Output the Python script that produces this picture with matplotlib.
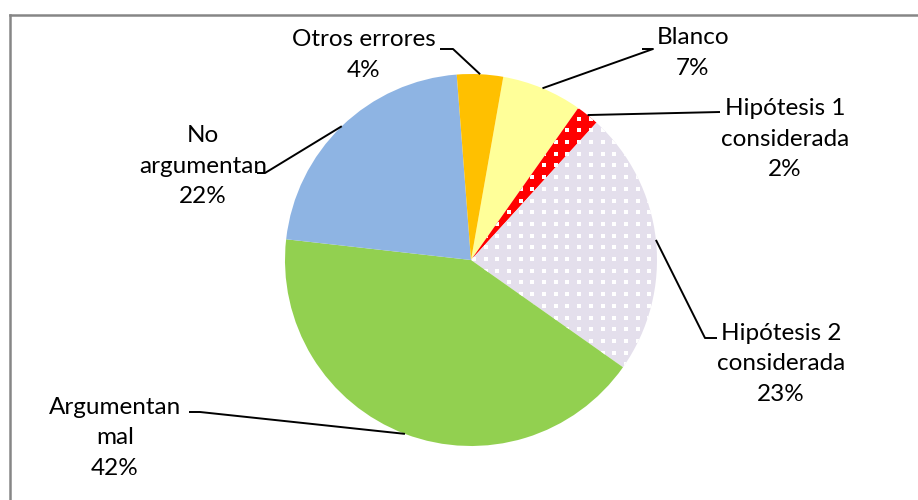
import numpy as np
import matplotlib.pyplot as plt
from matplotlib.lines import Line2D

# datos del gráfico
categorias = ["Blanco", "Hipótesis 1\nconsiderada", "Hipótesis 2\nconsiderada",
              "Argumentan\nmal", "No\nargumentan", "Otros errores"]
porcentajes = [7, 2, 23, 42, 22, 4]
colores = ["#FFFF99", "#FF0000", "#E4DFEC", "#92D050", "#8EB4E3", "#FFC000"]
con_puntos = [False, True, True, False, False, False]

W, H = 918, 500
CX, CY, R = 471, 260, 186  # centro y radio del pastel en píxeles


def px(x, y):
    # píxeles de la imagen -> coordenadas de datos (radio 1)
    return (x - CX) / R, (CY - y) / R


# posición de cada etiqueta (centro del texto) y codo de la línea guía, en píxeles
pos_etiqueta = [(693, 53), (785, 139), (781, 364), (115, 438), (203, 166), (364, 55)]
codo = [[(653, 49), (642, 49)], [(720, 112)], [(705, 338), (717, 338)],
        [(200, 412), (189, 412)], [(265, 173), (257, 173)], [(453, 49), (440, 49)]]

plt.rcParams["font.family"] = ["Lato", "DejaVu Sans"]

fig = plt.figure(figsize=(W / 100, H / 100), dpi=100)
ax = fig.add_axes([0, 0, 1, 1])

wedges, _ = ax.pie(porcentajes, colors=colores, startangle=80, counterclock=False,
                   radius=1, center=(0, 0), wedgeprops=dict(linewidth=0))

# trama de puntos blancos (cuadraditos) en las porciones con patrón
paso = 11.7 / R
gx, gy = np.meshgrid(np.arange(-1.2, 1.2, paso) + 0.02, np.arange(-1.2, 1.2, paso) + 0.01)
for w, p in zip(wedges, con_puntos):
    if p:
        sc = ax.scatter(gx.ravel(), gy.ravel(), s=8.5, marker="s", color="white",
                        linewidths=0, zorder=3)
        sc.set_clip_path(w)

# etiquetas y líneas guía
for w, cat, pct, (lx, ly), pts in zip(wedges, categorias, porcentajes, pos_etiqueta, codo):
    ang = np.deg2rad((w.theta1 + w.theta2) / 2)
    xs = [np.cos(ang)] + [px(*p)[0] for p in pts]
    ys = [np.sin(ang)] + [px(*p)[1] for p in pts]
    ax.plot(xs, ys, color="black", lw=1.4, zorder=4, solid_capstyle="butt")
    tx, ty = px(lx, ly)
    ax.text(tx, ty, f"{cat}\n{pct}%", ha="center", va="center", fontsize=17.5,
            linespacing=1.55, color="black", zorder=5)

ax.set_xlim(-CX / R, (W - CX) / R)
ax.set_ylim((CY - H) / R, CY / R)
ax.axis("off")

# marco gris del área del gráfico (se sale por la derecha y por abajo)
fx, fy = 9.5 / W, 1 - 14.5 / H
fig.add_artist(Line2D([fx, fx], [0, fy], transform=fig.transFigure, color="#868686", lw=1.8))
fig.add_artist(Line2D([fx, 1], [fy, fy], transform=fig.transFigure, color="#868686", lw=1.8))

fig.savefig("out.png", dpi=100)
